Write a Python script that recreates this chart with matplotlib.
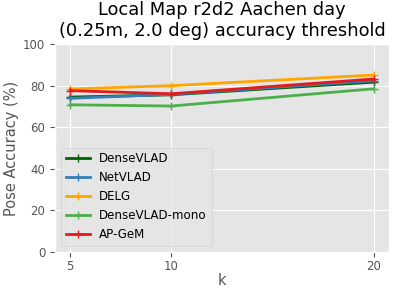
import matplotlib
matplotlib.use("Agg")
import matplotlib.pyplot as plt

plt.style.use("ggplot")
plt.rcParams["font.size"] = 8.8
plt.rcParams["xtick.labelsize"] = 8.5
plt.rcParams["ytick.labelsize"] = 8.5
plt.rcParams["legend.fontsize"] = 8.6
plt.rcParams["axes.labelsize"] = 10.5
plt.rcParams["xtick.major.pad"] = 2.5

k = [5, 10, 20]
dense_vlad = [74.5, 75.6, 81.7]
net_vlad = [73.9, 75.8, 82.4]
delg = [78.4, 80.0, 85.1]
dense_vlad_mono = [70.8, 70.2, 78.5]
ap_gem = [77.6, 76.1, 83.2]

series = [
    ("DenseVLAD", dense_vlad, "darkgreen"),
    ("NetVLAD", net_vlad, "#377eb8"),
    ("DELG", delg, "orange"),
    ("DenseVLAD-mono", dense_vlad_mono, "#4daf4a"),
    ("AP-GeM", ap_gem, "#e41a1c"),
]

fig, ax = plt.subplots(figsize=(4, 2.88), dpi=100)
for name, vals, color in series:
    ax.plot(k, vals, marker="+", color=color, label=name, linewidth=2)

ax.set_ylim(0, 100)
ax.set_xticks(k)
ax.set_xlabel("k", labelpad=0)
ax.set_ylabel("Pose Accuracy (%)", labelpad=3)
ax.set_title("Local Map r2d2 Aachen day\n(0.25m, 2.0 deg) accuracy threshold", fontsize=12.9)
ax.legend(loc="lower left")

fig.subplots_adjust(left=0.1375, right=0.9725, bottom=0.125, top=0.847)
plt.savefig("out.png")
